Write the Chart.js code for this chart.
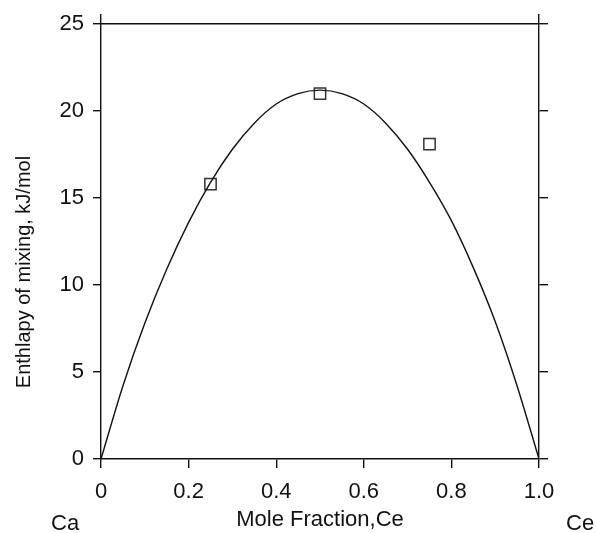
<!DOCTYPE html>
<html>
<head>
<meta charset="utf-8">
<script src="https://cdn.jsdelivr.net/npm/chart.js@4"></script>
<style>
  html, body { margin: 0; padding: 0; background: #fff; }
  canvas { display: block; }
</style>
</head>
<body>
<canvas id="myChart" width="596" height="533"></canvas>
<script>
// fitted curve
const curveX = [0, 0.05, 0.1, 0.15, 0.2, 0.25, 0.3, 0.35, 0.4, 0.45, 0.5,
                0.55, 0.6, 0.65, 0.7, 0.75, 0.8, 0.85, 0.9, 0.95, 1.0];
const curveY = [0, 4.2, 7.8, 10.9, 13.6, 15.9, 17.8, 19.3, 20.4, 21.0, 21.2,
                21.0, 20.4, 19.3, 17.8, 15.9, 13.7, 11.0, 7.9, 4.2, 0];

// measured points (squares)
const pointX = [0.25, 0.5, 0.75];
const pointY = [15.8, 21.0, 18.1];

const xTitle = 'Mole Fraction,Ce';
const yTitle = 'Enthlapy of mixing, kJ/mol';
const leftEnd = 'Ca';
const rightEnd = 'Ce';

const FONT = "'Liberation Sans', Arial, sans-serif";
const INK = '#111';

let curveData = curveX.map((x, i) => ({ x: x, y: curveY[i] }));
let pointData = pointX.map((x, i) => ({ x: x, y: pointY[i] }));

// extra labels: Ca / Ce at the ends and the rotated y title
const extraText = {
  id: 'extraText',
  afterDraw(chart) {
    const ctx = chart.ctx;
    ctx.save();
    ctx.fillStyle = INK;
    ctx.font = '22px ' + FONT;
    ctx.textBaseline = 'alphabetic';
    ctx.textAlign = 'left';
    ctx.fillText(leftEnd, 51, 530);
    ctx.fillText(rightEnd, 566, 530);

    ctx.font = '20px ' + FONT;
    ctx.translate(30, 272);
    ctx.rotate(-Math.PI / 2);
    ctx.textAlign = 'center';
    ctx.fillText(yTitle, 0, 0);
    ctx.restore();
  }
};

const ctx = document.getElementById('myChart');

let chart = new Chart(ctx, {
  type: 'scatter',
  data: {
    datasets: [
      {
        type: 'line',
        data: curveData,
        borderColor: INK,
        borderWidth: 1.4,
        pointRadius: 0,
        fill: false,
        cubicInterpolationMode: 'monotone'
      },
      {
        data: pointData,
        pointStyle: 'rect',
        pointRadius: 8,
        borderColor: '#333',
        borderWidth: 1.5,
        backgroundColor: 'rgba(0,0,0,0)',
        clip: false
      }
    ]
  },
  options: {
    responsive: false,
    animation: false,
    layout: { padding: 0 },
    plugins: {
      legend: { display: false },
      tooltip: { enabled: false }
    },
    scales: {
      x: {
        type: 'linear',
        position: 'bottom',
        min: 0,
        max: 1,
        afterFit: (s) => { s.height = 74; },
        ticks: {
          stepSize: 0.2,
          padding: 11,
          color: INK,
          font: { family: FONT, size: 22 },
          callback: (v) => v === 0 ? '0' : v.toFixed(1)
        },
        grid: { drawOnChartArea: false, tickLength: 9, color: INK, lineWidth: 1.4 },
        border: { display: true, color: INK, width: 1.4 },
        title: {
          display: true,
          text: xTitle,
          color: INK,
          font: { family: FONT, size: 22 },
          padding: { top: 0, bottom: 0 }
        }
      },
      x2: {
        type: 'linear',
        position: 'top',
        min: 0,
        max: 1,
        afterBuildTicks: (s) => { s.ticks = [{ value: 0 }, { value: 1 }]; },
        afterFit: (s) => { s.height = 24; },
        ticks: { display: false },
        grid: { drawOnChartArea: false, tickLength: 10, color: INK, lineWidth: 1.4 },
        border: { display: true, color: INK, width: 1.4 }
      },
      y: {
        type: 'linear',
        position: 'left',
        min: 0,
        max: 25,
        afterFit: (s) => { s.width = 101; },
        ticks: {
          stepSize: 5,
          padding: 9,
          color: INK,
          font: { family: FONT, size: 22 }
        },
        grid: { drawOnChartArea: false, tickLength: 8, color: INK, lineWidth: 1.4 },
        border: { display: true, color: INK, width: 1.4 }
      },
      y2: {
        type: 'linear',
        position: 'right',
        min: 0,
        max: 25,
        afterFit: (s) => { s.width = 57; },
        ticks: { display: false, stepSize: 5 },
        grid: { drawOnChartArea: false, tickLength: 9, color: INK, lineWidth: 1.4 },
        border: { display: true, color: INK, width: 1.4 }
      }
    }
  },
  plugins: [extraText]
});
</script>
</body>
</html>
